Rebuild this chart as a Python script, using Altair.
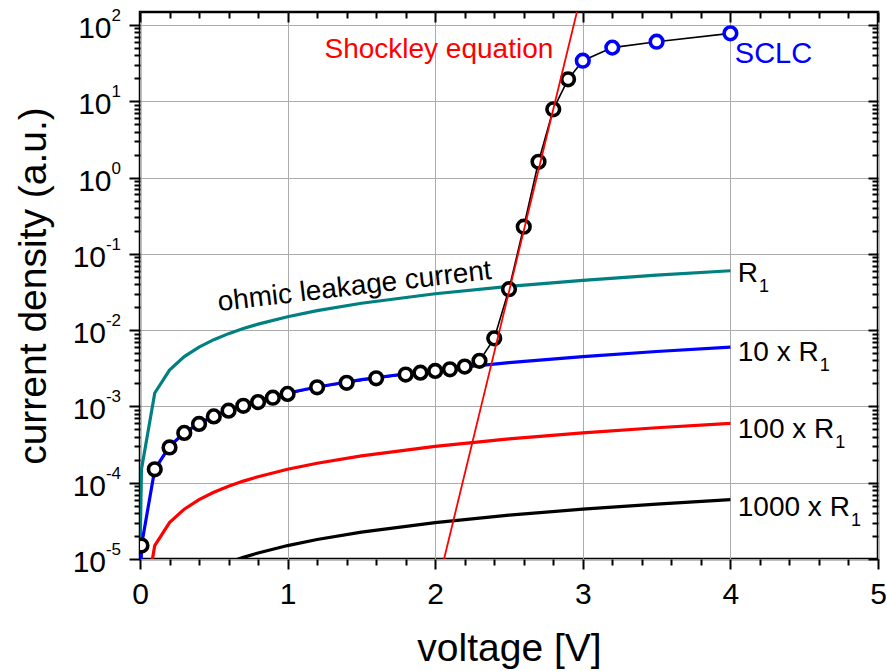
import altair as alt
import pandas as pd

FONT = "Liberation Sans"

# ---------------- data ----------------
# ohmic leakage curves (current = V / R) for R1, 10xR1, 100xR1, 1000xR1
V_curve = [0.001, 0.01, 0.1, 0.2, 0.3, 0.4, 0.5, 0.6, 0.7, 0.8, 1.0, 1.2, 1.5, 2.0, 2.5, 3.0, 3.5, 4.0]
J_R1 = [1.5e-5, 1.5e-4, 1.5e-3, 3.0e-3, 4.5e-3, 6.0e-3, 7.5e-3, 9.0e-3, 1.05e-2, 1.2e-2,
        1.5e-2, 1.8e-2, 2.25e-2, 3.0e-2, 3.75e-2, 4.5e-2, 5.25e-2, 6.0e-2]
J_10R1 = [1.5e-6, 1.5e-5, 1.5e-4, 3.0e-4, 4.5e-4, 6.0e-4, 7.5e-4, 9.0e-4, 1.05e-3, 1.2e-3,
          1.5e-3, 1.8e-3, 2.25e-3, 3.0e-3, 3.75e-3, 4.5e-3, 5.25e-3, 6.0e-3]
J_100R1 = [1.5e-7, 1.5e-6, 1.5e-5, 3.0e-5, 4.5e-5, 6.0e-5, 7.5e-5, 9.0e-5, 1.05e-4, 1.2e-4,
           1.5e-4, 1.8e-4, 2.25e-4, 3.0e-4, 3.75e-4, 4.5e-4, 5.25e-4, 6.0e-4]
J_1000R1 = [1.5e-8, 1.5e-7, 1.5e-6, 3.0e-6, 4.5e-6, 6.0e-6, 7.5e-6, 9.0e-6, 1.05e-5, 1.2e-5,
            1.5e-5, 1.8e-5, 2.25e-5, 3.0e-5, 3.75e-5, 4.5e-5, 5.25e-5, 6.0e-5]

# measured points (black circles)
V_meas = [0.01, 0.1, 0.2, 0.3, 0.4, 0.5, 0.6, 0.7, 0.8, 0.9, 1.0, 1.2, 1.4, 1.6, 1.8, 1.9,
          2.0, 2.1, 2.2, 2.3, 2.4, 2.5, 2.6, 2.7, 2.8, 2.9]
J_meas = [1.5e-5, 1.5e-4, 2.9e-4, 4.5e-4, 5.9e-4, 7.4e-4, 8.8e-4, 1.02e-3, 1.14e-3, 1.30e-3,
          1.46e-3, 1.78e-3, 2.04e-3, 2.34e-3, 2.62e-3, 2.77e-3, 2.92e-3, 3.07e-3, 3.33e-3,
          3.96e-3, 7.8e-3, 3.44e-2, 0.227, 1.61, 7.85, 19.4]
# SCLC points (blue circles)
V_sclc = [3.0, 3.2, 3.5, 4.0]
J_sclc = [34.0, 50.5, 60.3, 77.7]

# Shockley equation line (end points on the frame)
V_shockley = [2.06, 2.96]
J_shockley = [1.0e-5, 148.0]

# axes
x_domain = [0, 5]
y_domain = [1e-5, 148]
x_major = [0, 1, 2, 3, 4, 5]
x_minor = [0.2, 0.4, 0.6, 0.8, 1.2, 1.4, 1.6, 1.8, 2.2, 2.4, 2.6, 2.8,
           3.2, 3.4, 3.6, 3.8, 4.2, 4.4, 4.6, 4.8]
y_major = [1e-5, 1e-4, 1e-3, 1e-2, 1e-1, 1e0, 1e1, 1e2]
y_exp = ["-5", "-4", "-3", "-2", "-1", "0", "1", "2"]
y_minor = [m * 10.0 ** k for k in range(-5, 2) for m in range(2, 10)]

# labels
res_labels = ["R", "10 x R", "100 x R", "1000 x R"]
res_label_x = [4.05, 4.05, 4.05, 4.05]
res_label_y = [0.056, 5.2e-3, 5.1e-4, 4.8e-5]
res_label_width = [20.2, 80.9, 96.5, 112.1]   # text advance (px) before the subscript

# ---------------- chart ----------------
xs = alt.Scale(domain=x_domain, nice=False, zero=False)
ys = alt.Scale(type="log", domain=y_domain, nice=False)

def curve_df(v, j):
    return pd.DataFrame({"V": v, "J": j, "o": list(range(len(v)))})

def line(df, color, width):
    return alt.Chart(df).mark_line(color=color, strokeWidth=width, clip=True).encode(
        x=alt.X("V:Q", scale=xs, axis=None),
        y=alt.Y("J:Q", scale=ys, axis=None),
        order="o:Q",
    )

dummy = pd.DataFrame({"V": [1.0], "J": [1.0]})

def axis_layer(xaxis=None, yaxis=None):
    return alt.Chart(dummy).mark_point(opacity=0).encode(
        x=alt.X("V:Q", scale=xs, axis=xaxis),
        y=alt.Y("J:Q", scale=ys, axis=yaxis),
    )

common = dict(domain=False, tickColor="black", tickWidth=2, labelFont=FONT,
              titleFont=FONT)

ax_bottom = axis_layer(xaxis=alt.Axis(orient="bottom", values=x_major, tickSize=10,
                                      labelFontSize=30, labelColor="black", labelPadding=10,
                                      labelFlush=False, labelOverlap=False, format="d",
                                      grid=True, gridColor="#ababab", gridWidth=1,
                                      title="voltage [V]", titleFontSize=39,
                                      titleFontWeight="normal", titleColor="black",
                                      titleBaseline="alphabetic", titleY=101, **common))
ax_bottom_minor = axis_layer(xaxis=alt.Axis(orient="bottom", values=x_minor, tickSize=6,
                                            labels=False, grid=False, title="", **common))
ax_top = axis_layer(xaxis=alt.Axis(orient="top", values=x_major, tickSize=10, offset=-10,
                                   labels=False, grid=False, title="", **common))
ax_top_minor = axis_layer(xaxis=alt.Axis(orient="top", values=x_minor, tickSize=6, offset=-6,
                                         labels=False, grid=False, title="", **common))
ax_left = axis_layer(yaxis=alt.Axis(orient="left", values=y_major, tickSize=11,
                                    labels=False, grid=True, gridColor="#ababab", gridWidth=1,
                                    title="current density (a.u.)", titleFontSize=39,
                                    titleFontWeight="normal", titleColor="black",
                                    titleBaseline="alphabetic", titleX=-95, **common))
ax_left_minor = axis_layer(yaxis=alt.Axis(orient="left", values=y_minor, tickSize=6,
                                          labels=False, grid=False, title="", **common))
ax_right = axis_layer(yaxis=alt.Axis(orient="right", values=y_major, tickSize=10, offset=-10,
                                     labels=False, grid=False, title="", **common))
ax_right_minor = axis_layer(yaxis=alt.Axis(orient="right", values=y_minor, tickSize=6, offset=-6,
                                           labels=False, grid=False, title="", **common))

# y tick labels: "10" with superscript exponent
ylab = pd.DataFrame({"J": y_major, "exp": y_exp})
ylab["neg"] = ylab["exp"].str.startswith("-")

def ytext(df, text_field, size, dx, dy, align):
    return alt.Chart(df).mark_text(font=FONT, fontSize=size, align=align,
                                   baseline="alphabetic", dx=dx, dy=dy, color="black").encode(
        x=alt.value(0),
        y=alt.Y("J:Q", scale=ys, axis=None),
        text=text_field,
    )

ylab_pos = ylab[~ylab["neg"]].assign(base="10")
ylab_neg = ylab[ylab["neg"]].assign(base="10")
y_exp_layer = ytext(ylab, "exp:N", 17, -19, -4, "right")
y_base_pos = ytext(ylab_pos, "base:N", 30, -28.5, 13, "right")
y_base_neg = ytext(ylab_neg, "base:N", 30, -34, 13, "right")

# curves
c_r1 = line(curve_df(V_curve, J_R1), "#008080", 3.2)
c_10 = line(curve_df(V_curve, J_10R1), "#0000ff", 3.2)
c_100 = line(curve_df(V_curve, J_100R1), "#ff0000", 3.2)
c_1000 = line(curve_df(V_curve, J_1000R1), "#000000", 3.2)

meas_all = curve_df(V_meas + V_sclc, J_meas + J_sclc)
data_line = line(meas_all, "black", 1.6)

def points(df, color):
    return alt.Chart(df).mark_point(shape="circle", filled=False, fill="white", fillOpacity=1,
                                    stroke=color, strokeWidth=3.6, size=160, opacity=1,
                                    clip=True).encode(
        x=alt.X("V:Q", scale=xs, axis=None),
        y=alt.Y("J:Q", scale=ys, axis=None),
    )

p_meas = points(curve_df(V_meas, J_meas), "black")
p_sclc = points(curve_df(V_sclc, J_sclc), "#0000ff")

shockley = line(curve_df(V_shockley, J_shockley), "#ff0000", 1.8)

# annotations
def note(text, x, y, color, size, align, angle=0):
    df = pd.DataFrame({"V": [x], "J": [y], "t": [text]})
    kw = dict(font=FONT, fontSize=size, align=align, baseline="middle", color=color)
    if angle:
        kw["angle"] = angle
    return alt.Chart(df).mark_text(**kw).encode(
        x=alt.X("V:Q", scale=xs, axis=None),
        y=alt.Y("J:Q", scale=ys, axis=None),
        text="t:N",
    )

t_shock = note("Shockley equation", 2.80, 47.7, "#ff0000", 28, "right")
t_sclc = note("SCLC", 4.03, 42.0, "#0000ff", 29, "left")
t_ohmic = note("ohmic leakage current", 1.454, 0.0368, "black", 28, "center", 353.3)

res_layers = []
for lab, lx, ly, w in zip(res_labels, res_label_x, res_label_y, res_label_width):
    df = pd.DataFrame({"V": [lx], "J": [ly], "t": [lab], "s": ["1"]})
    main = alt.Chart(df).mark_text(font=FONT, fontSize=28, align="left", baseline="alphabetic",
                                   dy=9, color="black").encode(
        x=alt.X("V:Q", scale=xs, axis=None), y=alt.Y("J:Q", scale=ys, axis=None), text="t:N")
    sub = alt.Chart(df).mark_text(font=FONT, fontSize=18, align="left", baseline="alphabetic",
                                  dx=w + 1, dy=19, color="black").encode(
        x=alt.X("V:Q", scale=xs, axis=None), y=alt.Y("J:Q", scale=ys, axis=None), text="s:N")
    res_layers += [main, sub]

chart = alt.layer(
    ax_bottom, ax_bottom_minor, ax_top, ax_top_minor,
    ax_left, ax_left_minor, ax_right, ax_right_minor,
    c_r1, data_line, c_10, c_100, c_1000,
    p_meas, p_sclc, shockley,
    y_exp_layer, y_base_pos, y_base_neg,
    t_shock, t_sclc, t_ohmic, *res_layers,
).resolve_axis(x="independent", y="independent").properties(
    width=738, height=547,
    autosize=alt.AutoSizeParams(type="none"),
    padding={"left": 140, "top": 12, "right": 9, "bottom": 112},
    background="white",
).configure_view(stroke="black", strokeWidth=2.5)

chart.save("out.html", embed_options={"renderer": "svg", "actions": False})
